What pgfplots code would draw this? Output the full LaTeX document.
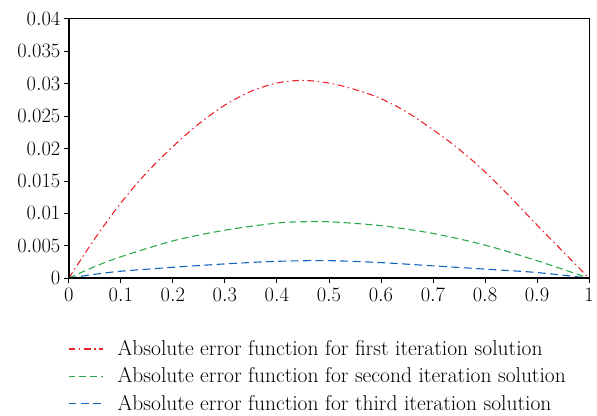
\documentclass[border=0pt]{standalone}
\usepackage{pgfplots}
\pgfplotsset{compat=1.18}
\definecolor{cred}{RGB}{235,35,45}
\definecolor{cgreen}{RGB}{40,170,75}
\definecolor{cblue}{RGB}{15,100,190}
\begin{document}
\begin{tikzpicture}
\begin{axis}[
  scale only axis,
  width=525.5bp, height=262bp,
  xmin=0, xmax=1, ymin=0, ymax=0.04,
  xtick={0,0.1,...,1.01},
  ytick={0,0.005,...,0.0401},
  scaled y ticks=false, scaled x ticks=false,
  yticklabel style={/pgf/number format/fixed,/pgf/number format/precision=3},
  xticklabel style={/pgf/number format/fixed,/pgf/number format/precision=1, yshift=-2bp},
  ticklabel style={font=\fontsize{20.5}{22}\selectfont},
  tick align=outside,
  xtick pos=bottom, ytick pos=left,
  major tick length=5bp,
  tick style={black, line width=0.8bp},
  axis line style={line width=0.8bp},
  legend style={draw=none, fill=none, at={(-0.002,-0.225)}, anchor=north west,
    font=\fontsize{21.8}{24}\selectfont, row sep=6.5bp, inner xsep=0pt,
    nodes={inner xsep=7bp}},
  legend cell align=left,
  legend image code/.code={\draw[#1] (0bp,0bp) -- (35bp,0bp); \path (42bp,0bp);},
]
\addplot[cred, line width=1.1bp, dash pattern=on 7bp off 3.5bp on 1.5bp off 3.5bp, smooth] coordinates {
(0,0) (0.05,0.0061) (0.1,0.0116) (0.15,0.0163) (0.2,0.0203) (0.25,0.0238) (0.3,0.0267) (0.35,0.0288) (0.4,0.0301) (0.45,0.0305) (0.5,0.0301) (0.55,0.0291) (0.6,0.0277) (0.65,0.0256) (0.7,0.0229) (0.75,0.0199) (0.8,0.0164) (0.85,0.0124) (0.9,0.0082) (0.95,0.0041) (1,0)};
\addlegendentry{Absolute error function for first iteration solution}
\addplot[cgreen, line width=1.1bp, dash pattern=on 7bp off 4bp, smooth] coordinates {
(0,0) (0.05,0.0018) (0.1,0.0033) (0.2,0.00575) (0.3,0.0074) (0.4,0.0085) (0.45,0.0087) (0.5,0.0087) (0.6,0.0081) (0.7,0.0069) (0.8,0.0051) (0.9,0.0027) (1,0)};
\addlegendentry{Absolute error function for second iteration solution}
\addplot[cblue, line width=1.1bp, dash pattern=on 8bp off 4.5bp, smooth] coordinates {
(0,0) (0.05,0.0006) (0.1,0.00107) (0.2,0.00168) (0.3,0.0022) (0.4,0.0026) (0.5,0.0027) (0.6,0.0024) (0.7,0.0019) (0.8,0.0014) (0.9,0.00087) (1,0)};
\addlegendentry{Absolute error function for third iteration solution}
\draw[line width=2bp, line cap=rect] (rel axis cs:0,1) -- (rel axis cs:0,0) -- (rel axis cs:1,0);
\end{axis}
\path (current axis.south west) ++(-69.5bp,-136bp) rectangle ++(597bp,417bp);
\end{tikzpicture}
\end{document}
